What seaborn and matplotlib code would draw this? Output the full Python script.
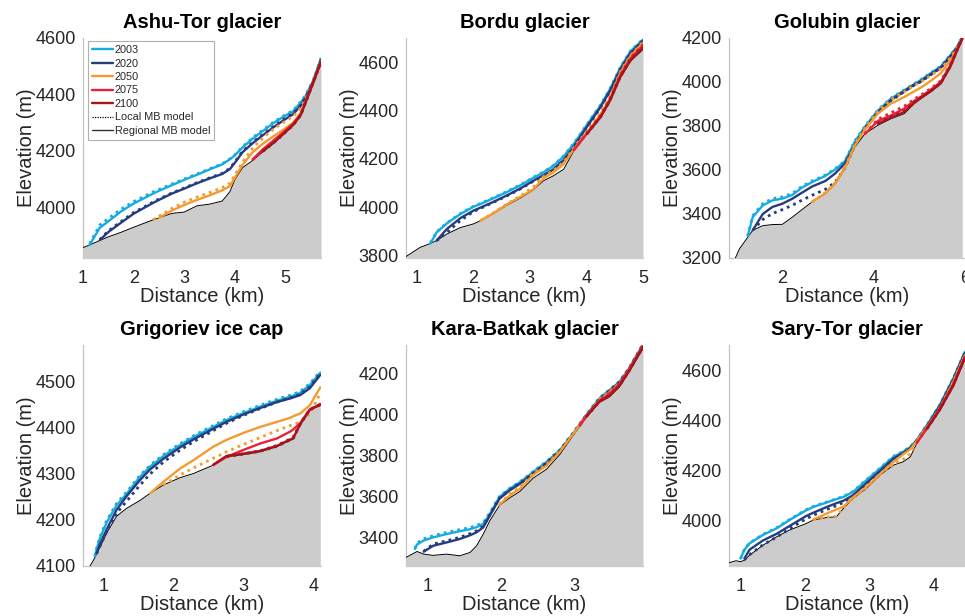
import numpy as np
import matplotlib
matplotlib.use("Agg")
import matplotlib.pyplot as plt
import seaborn as sns
from matplotlib.lines import Line2D

nan = np.nan

YEARS = ["2003", "2020", "2050", "2075", "2100"]
COLORS = ["#16acdf", "#253c7e", "#f39b30", "#e9203a", "#a8141d"]

# ---------------- Ashu-Tor glacier ----------------
ASHU_X = [1.0, 1.13, 1.33, 1.5, 1.75, 2.0, 2.38, 2.5, 2.75, 3.0, 3.25, 3.5, 3.75, 3.9, 4.0, 4.15, 4.35, 4.55, 4.75, 4.95, 5.15, 5.3, 5.4, 5.55, 5.7]
ASHU_BED = [3857, 3866, 3882, 3895, 3911, 3929, 3955, 3962, 3978, 3983, 4005, 4011, 4022, 4055, 4098, 4140, 4166, 4196, 4224, 4256, 4290, 4325, 4372, 4444, 4515]
ASHU_R2003 = [nan, 3866, 3927, 3950, 3985, 4013, 4048, 4058, 4078, 4097, 4115, 4134, 4152, 4170, 4184, 4212, 4243, 4270, 4297, 4320, 4340, 4372, 4395, 4450, 4527]
ASHU_L2003 = [nan, 3870, 3937, 3960, 3993, 4020, 4054, 4063, 4082, 4100, 4118, 4136, 4154, 4171, 4186, 4214, 4246, 4274, 4300, 4323, 4343, 4374, 4398, 4452, 4528]
ASHU_R2020 = [nan, nan, 3883, 3912, 3945, 3977, 4015, 4026, 4048, 4066, 4085, 4102, 4118, 4135, 4158, 4195, 4227, 4255, 4282, 4307, 4330, 4360, 4388, 4445, 4522]
ASHU_L2020 = [nan, nan, 3885, 3916, 3949, 3981, 4018, 4029, 4050, 4068, 4087, 4104, 4120, 4138, 4161, 4198, 4230, 4258, 4285, 4310, 4333, 4362, 4390, 4446, 4523]
ASHU_R2050 = [nan, nan, nan, nan, nan, nan, nan, 3962, 3988, 4008, 4026, 4042, 4060, 4075, 4105, 4150, 4195, 4225, 4250, 4274, 4300, 4335, 4375, 4444, 4517]
ASHU_L2050 = [nan, nan, nan, nan, nan, nan, 3955, 3968, 3995, 4018, 4036, 4052, 4070, 4085, 4115, 4160, 4210, 4245, 4275, 4300, 4322, 4352, 4385, 4447, 4519]
ASHU_R2075 = [nan] * 16 + [4170, 4205, 4235, 4265, 4296, 4330, 4376, 4446, 4516]
ASHU_L2075 = [nan] * 16 + [4168, 4201, 4230, 4261, 4294, 4329, 4375, 4445, 4516]
ASHU_R2100 = [nan] * 17 + [4199, 4227, 4259, 4292, 4327, 4373, 4444, 4515]
ASHU_L2100 = [nan] * 17 + [4198, 4226, 4258, 4291, 4326, 4373, 4444, 4515]

# ---------------- Bordu glacier ----------------
BORDU_X = [0.82, 1.07, 1.25, 1.36, 1.54, 1.78, 2.01, 2.13, 2.36, 2.6, 2.84, 3.07, 3.25, 3.42, 3.6, 3.78, 4.01, 4.25, 4.42, 4.6, 4.78, 5.0]
BORDU_BED = [3796, 3834, 3850, 3862, 3889, 3916, 3931, 3944, 3973, 4008, 4038, 4072, 4110, 4130, 4157, 4233, 4302, 4370, 4439, 4535, 4604, 4652]
BORDU_R2003 = [nan, nan, 3850, 3896, 3933, 3972, 4002, 4013, 4037, 4063, 4091, 4122, 4145, 4171, 4210, 4262, 4340, 4420, 4489, 4577, 4645, 4693]
BORDU_L2003 = [nan, nan, 3852, 3898, 3935, 3974, 4004, 4015, 4039, 4065, 4093, 4124, 4147, 4173, 4212, 4264, 4342, 4422, 4491, 4579, 4647, 4695]
BORDU_R2020 = [nan, nan, nan, 3862, 3910, 3955, 3986, 3998, 4022, 4049, 4078, 4110, 4133, 4157, 4195, 4250, 4332, 4414, 4482, 4570, 4638, 4689]
BORDU_L2020 = [nan, nan, nan, 3862, 3895, 3945, 3982, 3995, 4020, 4047, 4076, 4108, 4131, 4155, 4193, 4248, 4330, 4412, 4480, 4568, 4636, 4687]
BORDU_R2050 = [nan] * 7 + [3944, 3975, 4012, 4043, 4075, 4120, 4144, 4178, 4240, 4309, 4384, 4453, 4556, 4625, 4680]
BORDU_L2050 = [nan] * 7 + [3944, 3976, 4014, 4047, 4085, 4128, 4152, 4186, 4246, 4314, 4388, 4457, 4560, 4628, 4683]
BORDU_R2075 = [nan] * 15 + [4236, 4305, 4376, 4446, 4545, 4615, 4670]
BORDU_L2075 = [nan] * 15 + [4236, 4306, 4378, 4448, 4548, 4618, 4674]
BORDU_R2100 = [nan] * 16 + [4303, 4372, 4442, 4539, 4608, 4660]
BORDU_L2100 = [nan] * 16 + [4303, 4373, 4443, 4540, 4610, 4663]

# ---------------- Golubin glacier ----------------
GOLU_X = [0.97, 1.06, 1.24, 1.35, 1.57, 1.78, 2.0, 2.22, 2.43, 2.65, 2.94, 3.16, 3.37, 3.59, 3.81, 4.09, 4.38, 4.67, 4.89, 5.03, 5.25, 5.47, 5.68, 5.83, 5.94]
GOLU_BED = [3200, 3242, 3294, 3326, 3347, 3352, 3353, 3386, 3420, 3455, 3492, 3538, 3606, 3705, 3765, 3803, 3833, 3856, 3902, 3924, 3955, 3992, 4068, 4144, 4197]
GOLU_R2003 = [nan, nan, 3300, 3386, 3439, 3462, 3470, 3487, 3520, 3545, 3573, 3603, 3640, 3730, 3797, 3870, 3925, 3962, 3990, 4008, 4040, 4070, 4121, 4160, 4205]
GOLU_L2003 = [nan, nan, 3300, 3392, 3447, 3470, 3478, 3494, 3526, 3550, 3577, 3606, 3642, 3733, 3799, 3872, 3927, 3964, 3992, 4010, 4042, 4072, 4123, 4161, 4206]
GOLU_R2020 = [nan, nan, nan, 3326, 3400, 3432, 3447, 3470, 3497, 3525, 3550, 3585, 3630, 3715, 3790, 3862, 3918, 3958, 3988, 4003, 4035, 4066, 4117, 4157, 4202]
GOLU_L2020 = [nan, nan, nan, 3326, 3375, 3402, 3420, 3440, 3463, 3485, 3512, 3545, 3610, 3712, 3788, 3860, 3916, 3956, 3986, 4001, 4033, 4064, 4115, 4156, 4201]
GOLU_R2050 = [nan] * 9 + [3455, 3494, 3540, 3610, 3712, 3785, 3856, 3902, 3932, 3958, 3974, 4005, 4040, 4098, 4150, 4199]
GOLU_L2050 = [nan] * 9 + [3455, 3497, 3543, 3612, 3716, 3790, 3866, 3920, 3955, 3985, 4000, 4030, 4060, 4110, 4155, 4200]
GOLU_R2075 = [nan] * 14 + [3765, 3823, 3848, 3879, 3915, 3932, 3965, 4000, 4076, 4148, 4198]
GOLU_L2075 = [nan] * 14 + [3765, 3830, 3860, 3890, 3922, 3940, 3970, 4005, 4080, 4150, 4199]
GOLU_R2100 = [nan] * 15 + [3810, 3838, 3864, 3906, 3927, 3958, 3994, 4070, 4145, 4197]
GOLU_L2100 = [nan] * 15 + [3812, 3842, 3868, 3908, 3929, 3960, 3996, 4072, 4146, 4197]

# ---------------- Grigoriev ice cap ----------------
GRIG_X = [0.81, 0.88, 0.905, 0.95, 1.05, 1.19, 1.33, 1.52, 1.67, 1.86, 2.1, 2.29, 2.57, 2.76, 3.0, 3.24, 3.48, 3.67, 3.71, 3.81, 3.95, 4.1]
GRIG_BED = [4100, 4118, 4127, 4140, 4172, 4208, 4225, 4242, 4258, 4276, 4292, 4301, 4319, 4337, 4342, 4348, 4359, 4373, 4375, 4406, 4439, 4449]
GRIG_R2003 = [nan, 4122, 4136, 4160, 4195, 4232, 4256, 4293, 4316, 4339, 4363, 4380, 4402, 4417, 4432, 4446, 4459, 4468, 4470, 4476, 4493, 4520]
GRIG_L2003 = [nan, 4121, 4139, 4163, 4199, 4236, 4260, 4296, 4319, 4342, 4366, 4383, 4405, 4420, 4435, 4449, 4462, 4471, 4473, 4479, 4496, 4523]
GRIG_R2020 = [nan, nan, 4127, 4147, 4180, 4222, 4251, 4286, 4310, 4333, 4358, 4375, 4398, 4413, 4429, 4443, 4456, 4464, 4466, 4471, 4486, 4515]
GRIG_L2020 = [nan, nan, 4127, 4142, 4175, 4215, 4240, 4275, 4300, 4326, 4352, 4370, 4394, 4410, 4427, 4442, 4456, 4465, 4467, 4473, 4489, 4518]
GRIG_R2050 = [nan] * 8 + [4258, 4283, 4312, 4330, 4359, 4374, 4389, 4402, 4413, 4422, 4425, 4431, 4449, 4488]
GRIG_L2050 = [nan] * 9 + [4276, 4298, 4313, 4334, 4348, 4364, 4379, 4394, 4405, 4407, 4413, 4431, 4475]
GRIG_R2075 = [nan] * 12 + [4319, 4337, 4352, 4366, 4377, 4392, 4396, 4410, 4439, 4452]
GRIG_L2075 = [nan] * 13 + [4337, 4344, 4350, 4362, 4376, 4380, 4408, 4440, 4451]
GRIG_R2100 = [nan] * 12 + [4320, 4339, 4344, 4350, 4361, 4375, 4377, 4407, 4440, 4450]
GRIG_L2100 = [nan] * 13 + [4338, 4343, 4349, 4360, 4374, 4376, 4407, 4440, 4450]

# ---------------- Kara-Batkak glacier ----------------
KARA_X = [0.71, 0.83, 0.86, 0.95, 1.08, 1.26, 1.44, 1.58, 1.67, 1.76, 1.85, 1.98, 2.12, 2.26, 2.44, 2.62, 2.8, 2.98, 3.07, 3.16, 3.34, 3.47, 3.61, 3.74, 3.93]
KARA_BED = [3302, 3325, 3331, 3318, 3312, 3318, 3310, 3326, 3359, 3416, 3482, 3556, 3593, 3625, 3690, 3733, 3805, 3897, 3943, 3988, 4060, 4085, 4135, 4208, 4322]
KARA_R2003 = [nan, 3343, 3365, 3385, 3400, 3416, 3430, 3440, 3450, 3466, 3515, 3597, 3638, 3670, 3720, 3769, 3826, 3908, 3953, 3998, 4080, 4118, 4160, 4225, 4343]
KARA_L2003 = [nan, 3345, 3372, 3393, 3408, 3424, 3438, 3448, 3458, 3473, 3520, 3600, 3640, 3672, 3722, 3771, 3828, 3910, 3955, 4000, 4082, 4120, 4162, 4227, 4345]
KARA_R2020 = [nan, nan, nan, 3330, 3359, 3375, 3392, 3410, 3425, 3449, 3507, 3589, 3630, 3662, 3711, 3761, 3821, 3905, 3949, 3993, 4075, 4113, 4156, 4222, 4339]
KARA_L2020 = [nan, nan, nan, 3332, 3367, 3383, 3400, 3418, 3432, 3455, 3510, 3591, 3632, 3664, 3713, 3763, 3823, 3907, 3951, 3995, 4077, 4115, 4158, 4224, 4341]
KARA_R2050 = [nan] * 11 + [3560, 3605, 3638, 3705, 3750, 3818, 3905, 3950, 3994, 4072, 4108, 4150, 4220, 4338]
KARA_L2050 = [nan] * 11 + [3562, 3612, 3645, 3712, 3756, 3821, 3906, 3951, 3995, 4074, 4110, 4152, 4221, 4339]
KARA_R2075 = [nan] * 18 + [3946, 3992, 4068, 4100, 4148, 4218, 4336]
KARA_L2075 = [nan] * 18 + [3946, 3993, 4070, 4104, 4150, 4219, 4337]
KARA_R2100 = [nan] * 19 + [3990, 4064, 4090, 4140, 4212, 4330]
KARA_L2100 = [nan] * 19 + [3990, 4065, 4092, 4141, 4213, 4331]

# ---------------- Sary-Tor glacier ----------------
SARY_X = [0.82, 0.93, 1.0, 1.06, 1.14, 1.35, 1.56, 1.76, 2.02, 2.13, 2.34, 2.49, 2.6, 2.75, 2.96, 3.17, 3.38, 3.53, 3.64, 3.74, 3.9, 4.1, 4.31, 4.49]
SARY_BED = [3833, 3841, 3837, 3843, 3863, 3903, 3936, 3963, 3989, 4003, 4013, 4016, 4049, 4089, 4129, 4182, 4222, 4235, 4255, 4308, 4366, 4440, 4535, 4645]
SARY_R2003 = [nan, nan, 3850, 3885, 3910, 3944, 3970, 4003, 4042, 4055, 4073, 4086, 4095, 4115, 4162, 4208, 4255, 4275, 4293, 4321, 4381, 4461, 4567, 4673]
SARY_L2003 = [nan, nan, 3850, 3887, 3912, 3946, 3972, 4005, 4044, 4057, 4075, 4088, 4097, 4117, 4164, 4210, 4257, 4277, 4295, 4323, 4383, 4463, 4569, 4675]
SARY_R2020 = [nan, nan, nan, 3850, 3885, 3922, 3948, 3979, 4019, 4032, 4055, 4070, 4080, 4102, 4151, 4199, 4248, 4270, 4290, 4319, 4377, 4457, 4563, 4669]
SARY_L2020 = [nan, nan, nan, 3845, 3865, 3905, 3935, 3968, 4008, 4022, 4045, 4060, 4073, 4098, 4148, 4197, 4247, 4270, 4290, 4320, 4378, 4458, 4565, 4671]
SARY_R2050 = [nan] * 9 + [4005, 4029, 4045, 4056, 4093, 4135, 4186, 4235, 4265, 4285, 4318, 4374, 4447, 4554, 4660]
SARY_L2050 = [nan] * 9 + [4005, 4015, 4018, 4052, 4092, 4133, 4185, 4228, 4245, 4268, 4316, 4373, 4449, 4555, 4661]
SARY_R2075 = [nan] * 19 + [4310, 4369, 4446, 4544, 4653]
SARY_L2075 = [nan] * 19 + [4311, 4370, 4447, 4545, 4654]
SARY_R2100 = [nan] * 20 + [4367, 4443, 4540, 4650]
SARY_L2100 = [nan] * 20 + [4367, 4444, 4541, 4651]

TITLES = ["Ashu-Tor glacier", "Bordu glacier", "Golubin glacier",
          "Grigoriev ice cap", "Kara-Batkak glacier", "Sary-Tor glacier"]
XLIMS = [(1.0, 5.7), (0.82, 5.0), (0.83, 6.0), (0.71, 4.11), (0.71, 3.93), (0.82, 4.49)]
YLIMS = [(3820, 4600), (3790, 4700), (3200, 4200), (4100, 4580), (3260, 4340), (3820, 4700)]
XTICKS = [[1, 2, 3, 4, 5], [1, 2, 3, 4, 5], [2, 4, 6], [1, 2, 3, 4], [1, 2, 3], [1, 2, 3, 4]]
YTICKS = [[4000, 4200, 4400, 4600], [3800, 4000, 4200, 4400, 4600],
          [3200, 3400, 3600, 3800, 4000, 4200], [4100, 4200, 4300, 4400, 4500],
          [3400, 3600, 3800, 4000, 4200], [4000, 4200, 4400, 4600]]

GLACIERS = [
    (ASHU_X, ASHU_BED, [ASHU_R2003, ASHU_R2020, ASHU_R2050, ASHU_R2075, ASHU_R2100],
     [ASHU_L2003, ASHU_L2020, ASHU_L2050, ASHU_L2075, ASHU_L2100]),
    (BORDU_X, BORDU_BED, [BORDU_R2003, BORDU_R2020, BORDU_R2050, BORDU_R2075, BORDU_R2100],
     [BORDU_L2003, BORDU_L2020, BORDU_L2050, BORDU_L2075, BORDU_L2100]),
    (GOLU_X, GOLU_BED, [GOLU_R2003, GOLU_R2020, GOLU_R2050, GOLU_R2075, GOLU_R2100],
     [GOLU_L2003, GOLU_L2020, GOLU_L2050, GOLU_L2075, GOLU_L2100]),
    (GRIG_X, GRIG_BED, [GRIG_R2003, GRIG_R2020, GRIG_R2050, GRIG_R2075, GRIG_R2100],
     [GRIG_L2003, GRIG_L2020, GRIG_L2050, GRIG_L2075, GRIG_L2100]),
    (KARA_X, KARA_BED, [KARA_R2003, KARA_R2020, KARA_R2050, KARA_R2075, KARA_R2100],
     [KARA_L2003, KARA_L2020, KARA_L2050, KARA_L2075, KARA_L2100]),
    (SARY_X, SARY_BED, [SARY_R2003, SARY_R2020, SARY_R2050, SARY_R2075, SARY_R2100],
     [SARY_L2003, SARY_L2020, SARY_L2050, SARY_L2075, SARY_L2100]),
]

sns.set_theme(style="white")
plt.rcParams['font.family'] = ['Liberation Sans', 'DejaVu Sans']

W, H = 965, 616
fig = plt.figure(figsize=(W / 100, H / 100), dpi=100)

# axes boxes in pixels: (left, top, right, bottom)
BOXES = [(83, 38, 321, 258), (406, 38, 643, 258), (729, 38, 965, 258),
         (83, 345, 321, 566), (406, 345, 643, 566), (729, 345, 965, 566)]

SPINE = "#c4c4c4"
TXT = "#262626"
DOT = (0, (1.0, 1.5))

for i, (x, bed, regs, locs) in enumerate(GLACIERS):
    l, t, r, b = BOXES[i]
    ax = fig.add_axes([l / W, 1 - b / H, (r - l) / W, (b - t) / H])
    x = np.asarray(x, float)
    bedv = np.asarray(bed, float)
    ylo, yhi = YLIMS[i]
    ax.fill_between(x, bedv, ylo - 50, color="#cccccc", lw=0, zorder=1)
    sns.lineplot(x=x, y=bedv, ax=ax, color="black", lw=0.7, zorder=2,
                 sort=False, estimator=None)
    for c, rv, lv in zip(COLORS, regs, locs):
        rv = np.asarray(rv, float)
        lv = np.asarray(lv, float)
        m = ~np.isnan(rv)
        sns.lineplot(x=x[m], y=rv[m], ax=ax, color=c, lw=1.7, zorder=3,
                     sort=False, estimator=None)
        m = ~np.isnan(lv)
        sns.lineplot(x=x[m], y=lv[m], ax=ax, color=c, lw=2.0, zorder=3,
                     linestyle=DOT, sort=False, estimator=None)
    ax.set_xlim(*XLIMS[i])
    ax.set_ylim(ylo, yhi)
    ax.set_xticks(XTICKS[i])
    ax.set_yticks(YTICKS[i])
    ax.set_axisbelow(True)
    for s in ["top", "right"]:
        ax.spines[s].set_visible(False)
    for s in ["left", "bottom"]:
        ax.spines[s].set_color(SPINE)
        ax.spines[s].set_linewidth(0.9)
        ax.spines[s].set_zorder(0.5)
    ax.tick_params(direction="in", length=3, width=0.6, color="#a0a0a0",
                   labelsize=13, labelcolor=TXT, pad=5)
    ax.tick_params(axis="x", pad=8.5)
    ax.set_title(TITLES[i], fontsize=14.5, fontweight="bold", color="black", pad=7)
    ax.set_xlabel("Distance (km)", fontsize=14.5, color=TXT, labelpad=0)
    ax.set_ylabel("Elevation (m)", fontsize=14.5, color=TXT, labelpad=0)
    ax.grid(False)

    if i == 0:
        handles = [Line2D([], [], color=c, lw=1.7) for c in COLORS]
        handles += [Line2D([], [], color="black", lw=0.9, linestyle=(0, (1, 1))),
                    Line2D([], [], color="#333333", lw=1.0)]
        labels = YEARS + ["Local MB model", "Regional MB model"]
        leg = ax.legend(handles, labels, loc="upper left", bbox_to_anchor=(0.02, 0.985),
                        fontsize=7.8, frameon=True, fancybox=False, edgecolor="#b0b0b0",
                        framealpha=1, handlelength=2.0, handletextpad=0.15,
                        labelspacing=0.32, borderpad=0.35, borderaxespad=0)
        leg.get_frame().set_linewidth(0.8)
        leg.set_zorder(10)

fig.savefig("out.png", dpi=100)
